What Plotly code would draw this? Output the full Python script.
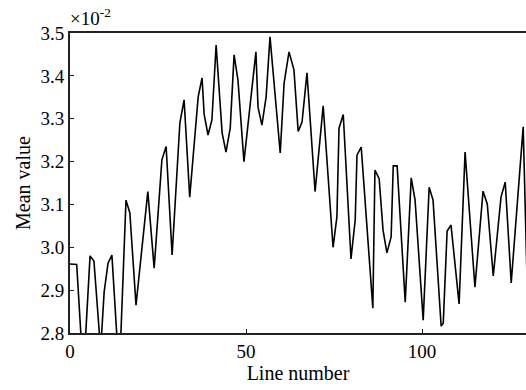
import plotly.graph_objects as go

# Line number (x) and mean value (×10^-2)
line_number = [0, 1.9, 3.8, 5.7, 6.8, 8.7, 9.7, 10.8, 11.9, 14.0, 15.9, 17.0, 18.75,
               22.1, 23.9, 26.1, 27.3, 29.0, 31.2, 32.4, 34.0, 36.4, 37.5, 38.1, 39.2,
               40.3, 41.5, 43.2, 44.3, 45.5, 46.6, 47.7, 49.4, 52.8, 53.4, 54.5, 55.7,
               56.8, 59.7, 60.8, 62.2, 63.6, 64.8, 65.9, 67.3, 69.6, 71.9, 74.7, 75.8,
               76.4, 77.6, 79.8, 81.0, 81.5, 82.7, 86.0, 86.6, 87.8, 88.9, 90.0, 91.2,
               91.8, 92.9, 95.2, 96.9, 98.0, 100.3, 102.0, 103.1, 105.4, 106.0, 107.1,
               108.2, 110.5, 112.2, 115.0, 117.3, 118.5, 120.2, 122.4, 123.6, 125.3,
               128.7, 130.0]
mean_value = [2.961, 2.960, 2.70, 2.980, 2.968, 2.76, 2.896, 2.963, 2.982, 2.70, 3.110,
              3.080, 2.865, 3.130, 2.951, 3.204, 3.235, 2.982, 3.290, 3.344, 3.117, 3.351,
              3.395, 3.310, 3.262, 3.297, 3.472, 3.267, 3.222, 3.278, 3.449, 3.390, 3.200,
              3.456, 3.327, 3.285, 3.351, 3.491, 3.220, 3.383, 3.456, 3.414, 3.270, 3.292,
              3.407, 3.130, 3.330, 3.000, 3.071, 3.278, 3.310, 2.973, 3.064, 3.215, 3.234,
              2.858, 3.180, 3.160, 3.040, 2.987, 3.024, 3.190, 3.190, 2.872, 3.162, 3.110,
              2.830, 3.140, 3.110, 2.816, 2.823, 3.038, 3.052, 2.868, 3.222, 2.907, 3.131,
              3.101, 2.933, 3.117, 3.152, 2.917, 3.281, 2.860]

x_ticks = [0, 50, 100]
y_ticks = [2.8, 2.9, 3.0, 3.1, 3.2, 3.3, 3.4, 3.5]
y_tick_labels = ["2.8", "2.9", "3.0", "3.1", "3.2", "3.3", "3.4", "3.5"]

FONT = "Liberation Serif, serif"

fig = go.Figure()
fig.add_trace(go.Scatter(x=line_number, y=mean_value, mode="lines",
                         line=dict(color="black", width=1.6), showlegend=False))

fig.update_layout(
    width=526, height=390,
    margin=dict(l=70, r=0, t=33, b=57, autoexpand=False),
    paper_bgcolor="white", plot_bgcolor="white",
    font=dict(family=FONT, size=17, color="black"),
    xaxis=dict(range=[0, 129.5], tickvals=x_ticks, ticktext=[str(v) for v in x_ticks],
               ticks="inside", ticklen=4, tickcolor="#222", showgrid=False, zeroline=False,
               showline=True, linecolor="#222", linewidth=2, mirror=True,
               title=dict(text="Line number", standoff=0, font=dict(family=FONT, size=20)),
               tickfont=dict(family=FONT, size=19)),
    yaxis=dict(range=[2.8, 3.5], tickvals=y_ticks, ticktext=y_tick_labels,
               ticks="inside", ticklen=4, tickcolor="#222", showgrid=False, zeroline=False,
               showline=True, linecolor="#222", linewidth=2, mirror=True,
               title=dict(text="Mean value", standoff=4, font=dict(family=FONT, size=20)),
               tickfont=dict(family=FONT, size=19)),
    annotations=[dict(text="×10<sup>-2</sup>", xref="paper", yref="paper", x=-0.005, y=1.0,
                      xanchor="left", yanchor="bottom", showarrow=False,
                      font=dict(family=FONT, size=19, color="black"), yshift=2)],
)

fig.write_html(
    "out.html",
    config={"displayModeBar": False},
    post_script=(
        "document.body.style.margin='0';document.body.style.padding='0';"
        "document.body.style.overflow='hidden';"
    ),
)
